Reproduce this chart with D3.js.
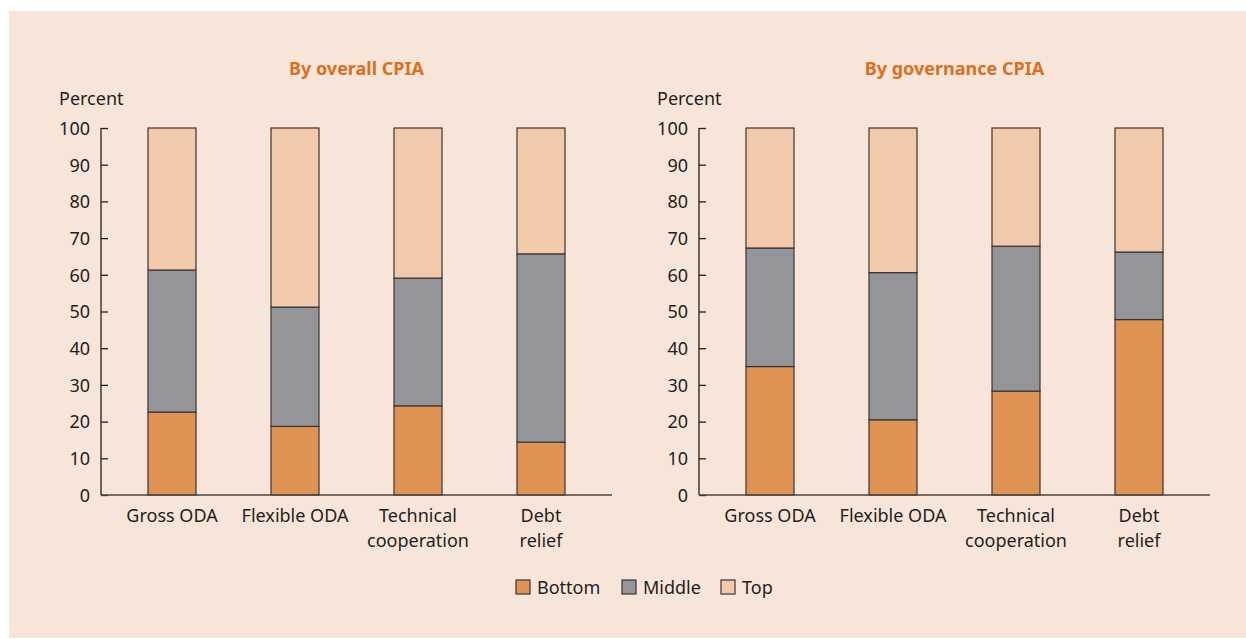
<!DOCTYPE html>
<html>
<head>
<meta charset="utf-8">
<script src="https://cdn.jsdelivr.net/npm/d3@7"></script>
<style>
  body { margin: 0; background: #fff; }
  text { font-family: "Noto Sans", "Open Sans", sans-serif; fill: #231f20; }
</style>
</head>
<body>
<div id="chart"></div>
<script>
// data
var categories = ["Gross ODA", "Flexible ODA", "Technical cooperation", "Debt relief"];
var catLines = [["Gross ODA"], ["Flexible ODA"], ["Technical", "cooperation"], ["Debt", "relief"]];
var series = ["Bottom", "Middle", "Top"];
var colors = ["#de9352", "#939598", "#f2caab"];

var overallBottom = [22.6, 18.7, 24.3, 14.4];
var overallMiddle = [38.7, 32.5, 34.8, 51.3];
var overallTop = [38.7, 48.8, 40.9, 34.3];

var govBottom = [35.0, 20.5, 28.3, 47.8];
var govMiddle = [32.3, 40.1, 39.5, 18.4];
var govTop = [32.7, 39.4, 32.2, 33.8];

var yTicks = [0, 10, 20, 30, 40, 50, 60, 70, 80, 90, 100];

var W = 1246, H = 639;
var svg = d3.select("#chart").append("svg")
  .attr("width", W).attr("height", H);

// panel background
svg.append("rect")
  .attr("x", 9).attr("y", 11)
  .attr("width", W - 9).attr("height", H - 12)
  .attr("fill", "#f8e5d9");

function drawPanel(left, title, bottom, middle, top) {
  var height = 367, width = 511;
  var g = svg.append("g").attr("transform", "translate(" + left + ",128)");

  var y = d3.scaleLinear().domain([0, 100]).range([height, 0]);
  var x = d3.scalePoint().domain(categories).range([71, 440]);
  var barW = 48;

  var rows = categories.map(function(c, i) {
    return {cat: c, Bottom: bottom[i], Middle: middle[i], Top: top[i]};
  });
  var stacked = d3.stack().keys(series)(rows);

  // title
  g.append("text")
    .attr("x", width / 2).attr("y", -53)
    .attr("text-anchor", "middle")
    .style("font-weight", "bold").style("font-size", "18px")
    .style("fill", "#d8711f")
    .text(title);

  g.append("text")
    .attr("x", -42).attr("y", -23)
    .style("font-size", "18px")
    .text("Percent");

  // y axis
  var ya = g.append("g")
    .call(d3.axisRight(y).tickValues(yTicks).tickSize(7).tickFormat(d3.format("d")));
  ya.select(".domain").remove();
  ya.selectAll("line").attr("stroke", "#231f20").attr("stroke-width", 1.3);
  ya.selectAll("text")
    .attr("x", -11).attr("dy", "0.35em")
    .attr("text-anchor", "end")
    .style("font-size", "18px");
  g.append("line")
    .attr("x1", 0).attr("x2", 0).attr("y1", 0).attr("y2", height)
    .attr("stroke", "#231f20").attr("stroke-width", 1.3);

  // bars
  g.selectAll(".layer")
    .data(stacked)
    .enter().append("g")
    .attr("fill", function(d, i) { return colors[i]; })
    .selectAll("rect")
    .data(function(d) { return d; })
    .enter().append("rect")
    .attr("x", function(d) { return x(d.data.cat) - barW / 2; })
    .attr("y", function(d) { return y(d[1]); })
    .attr("width", barW)
    .attr("height", function(d) { return y(d[0]) - y(d[1]); })
    .attr("stroke", "#3a3435")
    .attr("stroke-width", 1.2);

  // x axis line
  g.append("line")
    .attr("x1", 0).attr("x2", width).attr("y1", height).attr("y2", height)
    .attr("stroke", "#4a4445").attr("stroke-width", 1.5);

  // category labels
  categories.forEach(function(c, i) {
    var t = g.append("text")
      .attr("x", x(c)).attr("y", height + 27)
      .attr("text-anchor", "middle")
      .style("font-size", "18px");
    catLines[i].forEach(function(line, j) {
      t.append("tspan").attr("x", x(c)).attr("dy", j === 0 ? 0 : 25).text(line);
    });
  });
}

drawPanel(101, "By overall CPIA", overallBottom, overallMiddle, overallTop);
drawPanel(699, "By governance CPIA", govBottom, govMiddle, govTop);

// legend
var legendX = [516, 622, 721];
var lg = svg.append("g").attr("transform", "translate(0,580)");
series.forEach(function(s, i) {
  lg.append("rect")
    .attr("x", legendX[i]).attr("y", 0)
    .attr("width", 14).attr("height", 14)
    .attr("fill", colors[i])
    .attr("stroke", "#3a3435").attr("stroke-width", 1.2);
  lg.append("text")
    .attr("x", legendX[i] + 21).attr("y", 14)
    .style("font-size", "18px")
    .text(s);
});
</script>
</body>
</html>
